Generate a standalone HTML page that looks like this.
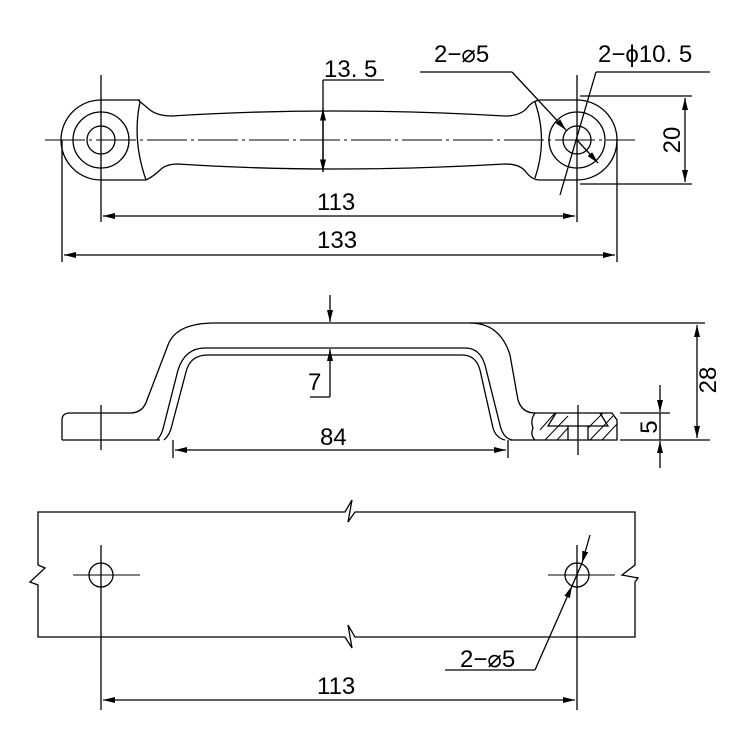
<!DOCTYPE html>
<html><head><meta charset="utf-8"><style>
html,body{margin:0;padding:0;background:#fff;}
svg{display:block;}
text{font-family:"Liberation Sans","DejaVu Sans",sans-serif;font-size:24px;fill:#000;}
</style></head><body>
<svg width="750" height="750" viewBox="0 0 750 750" xmlns="http://www.w3.org/2000/svg">
<defs>
<marker id="a" viewBox="0 0 12 6" refX="12" refY="3" markerWidth="12" markerHeight="6" orient="auto-start-reverse" markerUnits="userSpaceOnUse"><path d="M0,0 L12,3 L0,6 Z" fill="#000"/></marker>
</defs>
<g fill="none" stroke="#000" stroke-width="1.3">
<!-- TOP VIEW -->
<line x1="45" y1="140" x2="635" y2="140" stroke-dasharray="40,4,3,4" stroke-width="1"/>
<path d="M140,100 L101,100 A40,40 0 0 0 101,180 L146,180"/>
<circle cx="101" cy="140" r="28"/>
<circle cx="101" cy="140" r="14"/>
<path d="M540,100 L577,100 A40,40 0 0 1 577,180 L540,180"/>
<circle cx="577" cy="140" r="28"/>
<circle cx="577" cy="140" r="14"/>
<path d="M138,100 Q143,104 150,110 Q158,116 172,116 Q330,106 505,116 Q520,116 527,108 Q532,101 540,100"/>
<path d="M146,180 Q154,176 160,170 Q166,164 178,164 Q330,174 505,164 Q520,164 526,172 Q532,180 540,180"/>
<path d="M140,102 Q132,140 146,180"/>
<path d="M535,102 Q548,140 535,178"/>
<line x1="101" y1="75" x2="101" y2="222"/>
<line x1="577" y1="75" x2="577" y2="222"/>
<line x1="62" y1="140" x2="62" y2="262"/>
<line x1="617" y1="140" x2="617" y2="262"/>
<line x1="103" y1="216" x2="575" y2="216" marker-start="url(#a)" marker-end="url(#a)"/>
<line x1="64" y1="255" x2="615" y2="255" marker-start="url(#a)" marker-end="url(#a)"/>
<line x1="323" y1="80" x2="323" y2="172" />
<line x1="323" y1="140" x2="323" y2="108.5" marker-end="url(#a)"/>
<line x1="323" y1="140" x2="323" y2="171.5" marker-end="url(#a)"/>
<line x1="323" y1="80" x2="384" y2="80"/>
<line x1="580" y1="96" x2="692" y2="96"/>
<line x1="580" y1="184" x2="692" y2="184"/>
<line x1="685" y1="98" x2="685" y2="182" marker-start="url(#a)" marker-end="url(#a)"/>
<line x1="420" y1="72" x2="512" y2="72"/>
<line x1="512" y1="72" x2="566" y2="130" marker-end="url(#a)"/>
<line x1="596" y1="72" x2="710" y2="72"/>
<line x1="596" y1="72" x2="560" y2="195"/>
<line x1="577" y1="140" x2="598" y2="163" marker-end="url(#a)"/>
<!-- SIDE VIEW -->
<path d="M62,440 L62,420 Q62,413 70,413 L130,413 Q143,413 147,400 L168,345 Q176,323 215,323 L470,323 Q500,323 510,355 L518,400 Q522,413 535,413"/>
<path d="M62,440 L160,440"/>
<path d="M157,440 Q162,435 164,425 L178,370 Q185,348 205,348 L465,348 Q480,348 485,365 L500,425 Q503,438 512,440"/>
<path d="M164,440 Q170,435 172,425 L186,372 Q190,355 208,355 L462,355 Q476,355 480,370 L493,428 Q496,438 505,440"/>
<path d="M510,440 L617,440 L617,420 L612,413 L535,413 Q530,420 533,428 Q530,435 535,440"/>
<path d="M568,440 L568,426 L588,426 L588,440"/>
<path d="M556,413 L548,426 L568,426 M600,413 L608,426 L588,426" />
<g stroke-width="1">
<line x1="540" y1="430" x2="555" y2="413"/>
<line x1="545" y1="440" x2="568" y2="416"/>
<line x1="557" y1="440" x2="568" y2="428"/>
<line x1="590" y1="440" x2="613" y2="416"/>
<line x1="602" y1="440" x2="617" y2="424"/>
<line x1="588" y1="428" x2="603" y2="413"/>
</g>
<line x1="101" y1="405" x2="101" y2="450"/>
<line x1="578" y1="405" x2="578" y2="455"/>
<line x1="470" y1="323" x2="705" y2="323"/>
<line x1="620" y1="440" x2="710" y2="440"/>
<line x1="620" y1="413" x2="670" y2="413"/>
<line x1="697" y1="325" x2="697" y2="438" marker-start="url(#a)" marker-end="url(#a)"/>
<line x1="660" y1="385" x2="660" y2="412" marker-end="url(#a)"/>
<line x1="660" y1="468" x2="660" y2="441" marker-end="url(#a)"/>
<line x1="660" y1="413" x2="660" y2="440"/>
<line x1="330" y1="295" x2="330" y2="322" marker-end="url(#a)"/>
<line x1="330" y1="397" x2="330" y2="349" marker-end="url(#a)"/>
<line x1="310" y1="397" x2="330" y2="397"/>
<line x1="173" y1="440" x2="173" y2="458"/>
<line x1="508" y1="440" x2="508" y2="458"/>
<line x1="175" y1="450" x2="506" y2="450" marker-start="url(#a)" marker-end="url(#a)"/>
<!-- BOTTOM VIEW -->
<path d="M38,512 L345,512 L352,500 L348,522 L355,512 L635,512 L635,565 L622,575 L638,578 L635,582 L635,637 L355,637 L348,625 L352,648 L345,637 L38,637 L38,585 L30,582 L45,568 L38,565 Z"/>
<circle cx="101" cy="575" r="12"/>
<circle cx="577" cy="575" r="12"/>
<line x1="73" y1="575" x2="140" y2="575" stroke-width="1"/>
<line x1="548" y1="575" x2="615" y2="575" stroke-width="1"/>
<line x1="101" y1="545" x2="101" y2="710"/>
<line x1="577" y1="545" x2="577" y2="710"/>
<line x1="103" y1="700" x2="575" y2="700" marker-start="url(#a)" marker-end="url(#a)"/>
<line x1="445" y1="670" x2="535" y2="670"/>
<line x1="535" y1="670" x2="572" y2="586" marker-end="url(#a)"/>
<line x1="590" y1="535" x2="582" y2="563" marker-end="url(#a)"/>
<line x1="582" y1="563" x2="572" y2="586"/>
</g>
<text x="324" y="77">13. 5</text>
<text x="434" y="62">2−⌀5</text>
<text x="598" y="62">2−ϕ10. 5</text>
<text x="317" y="210">113</text>
<text x="317" y="248">133</text>
<text x="680" y="140" transform="rotate(-90 680 140)" text-anchor="middle">20</text>
<text x="308" y="390">7</text>
<text x="320" y="445">84</text>
<text x="716" y="380" transform="rotate(-90 716 380)" text-anchor="middle">28</text>
<text x="657" y="427" transform="rotate(-90 657 427)" text-anchor="middle">5</text>
<text x="460" y="667">2−⌀5</text>
<text x="317" y="694">113</text>
</svg>
</body></html>
